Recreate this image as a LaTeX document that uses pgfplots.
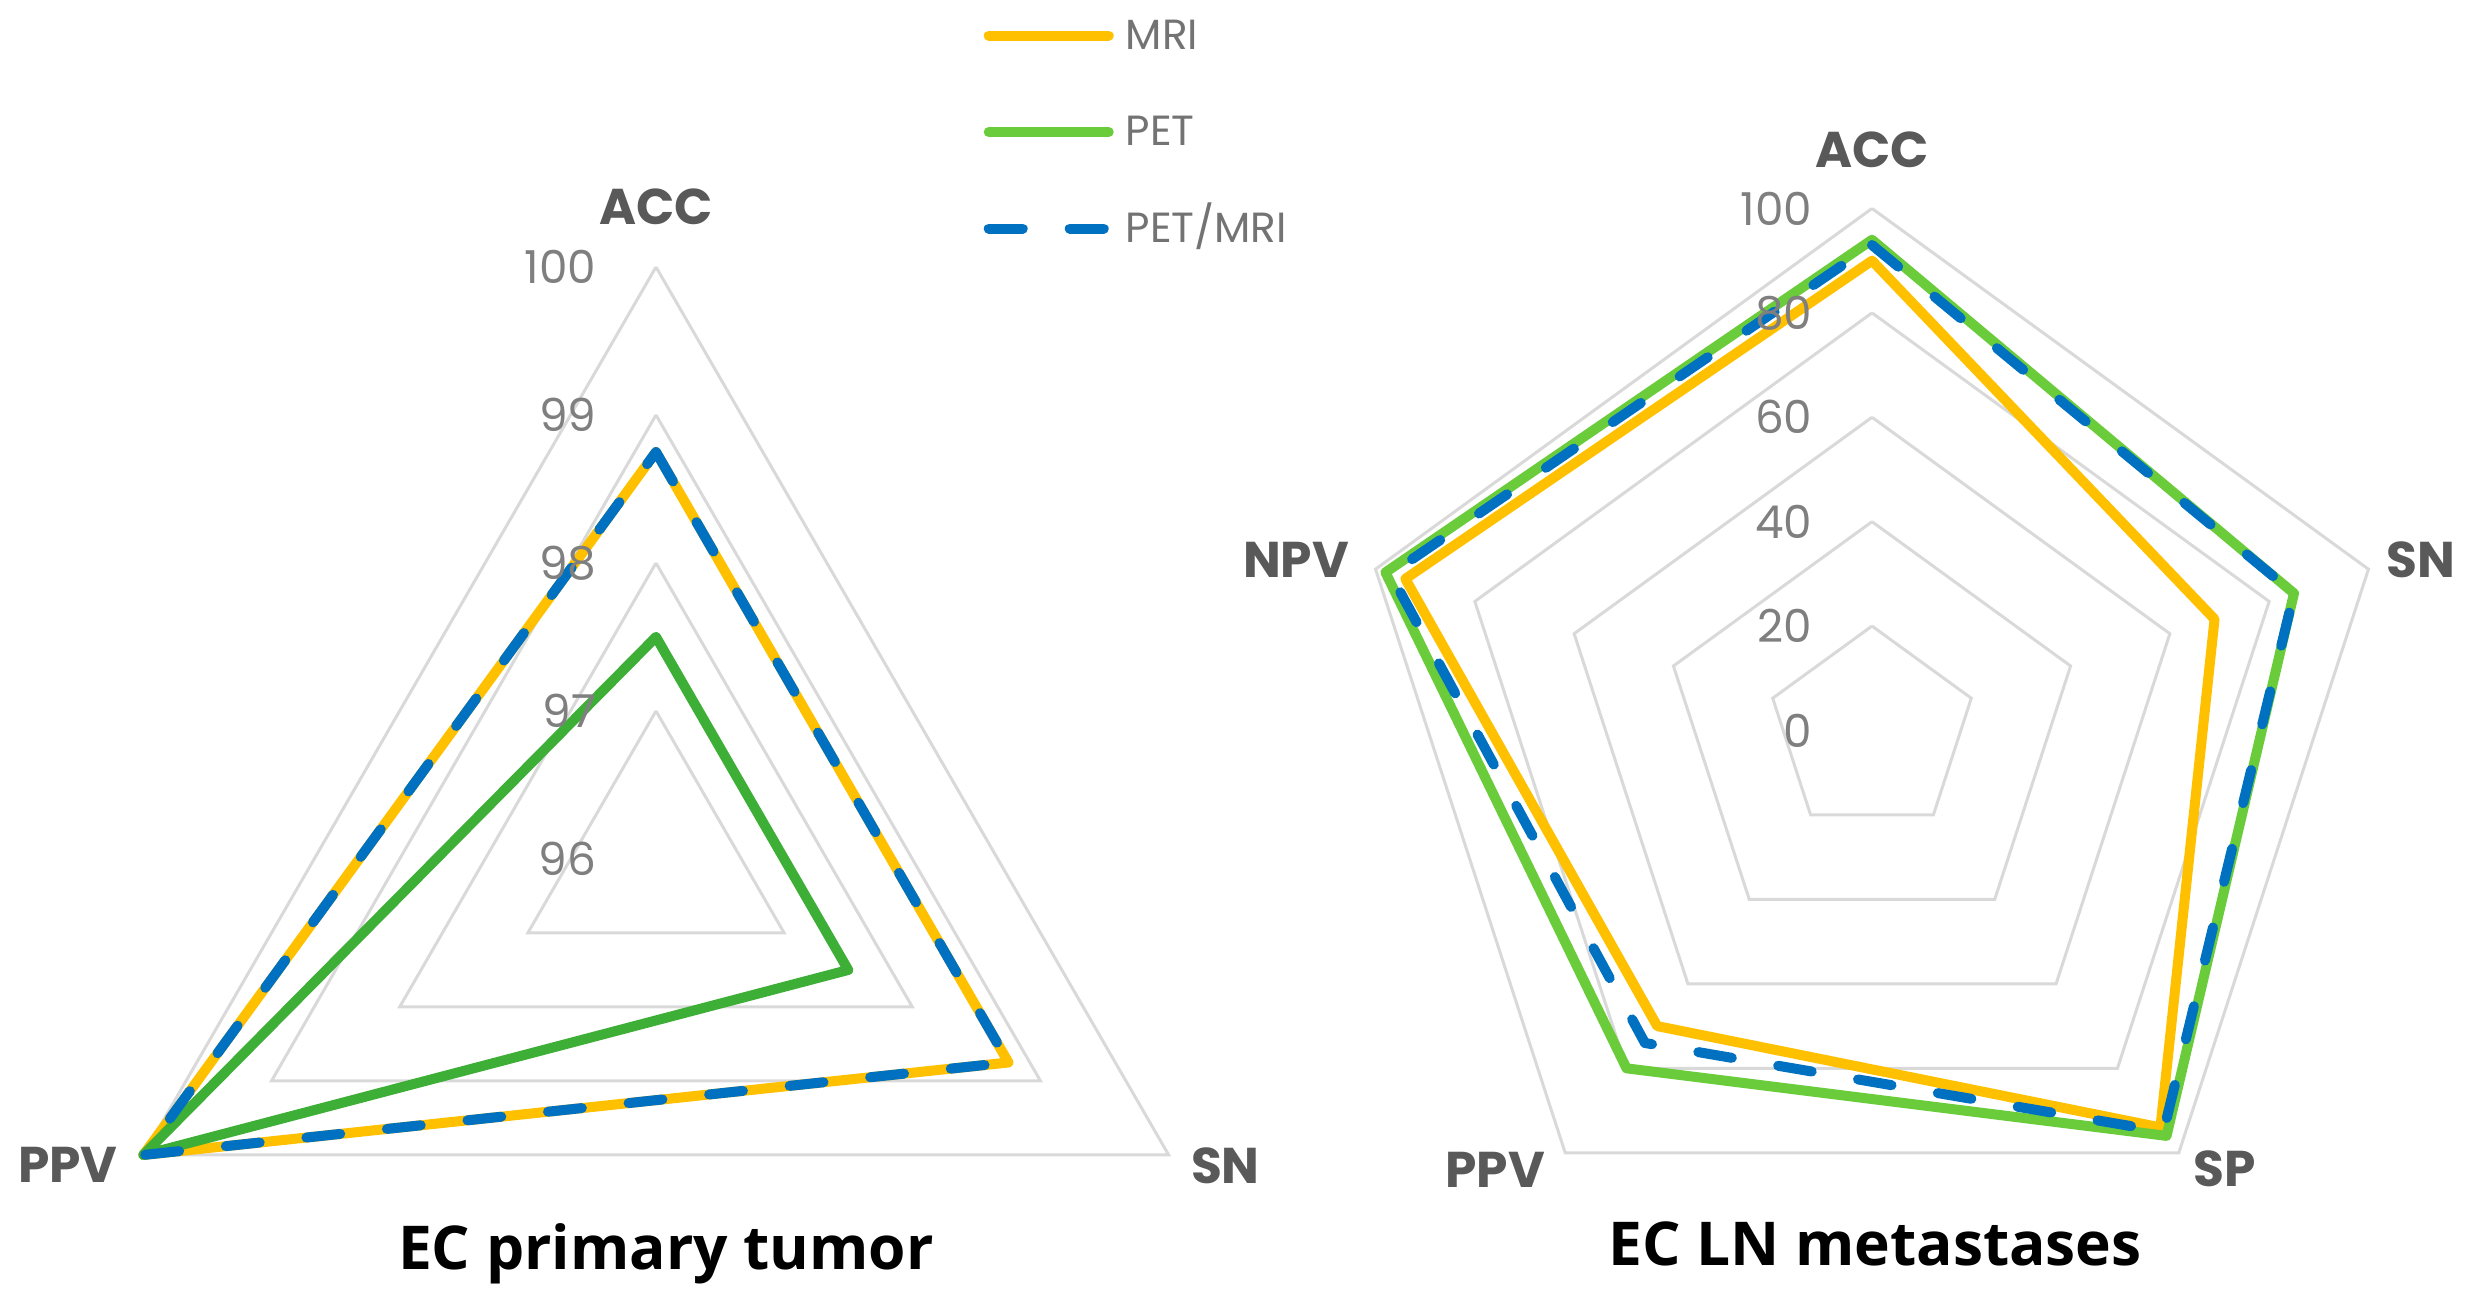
\documentclass[border=0pt]{standalone}
\usepackage{fontspec}
\setmainfont{Poppins}
\newfontfamily\titlefont{Open Sans}
\usepackage{pgfplots}
\pgfplotsset{compat=1.18}
\usepgfplotslibrary{polar}
\usepackage{pgfplotstable}

\definecolor{mri}{HTML}{FFC000}
\definecolor{petL}{HTML}{3DAE36}
\definecolor{petR}{HTML}{6ACC3A}
\definecolor{pmri}{HTML}{0070C0}
\definecolor{gridc}{HTML}{D9D9D9}
\definecolor{tickc}{HTML}{7F7F7F}
\definecolor{catc}{HTML}{595959}
\definecolor{legc}{HTML}{737373}

% EC primary tumor (values in %)
\pgfplotstableread{
ang mri pet pmri
90  98.75 97.5 98.75
330 98.75 97.5 98.75
210 100  100  100
90  98.75 97.5 98.75
}\tumor

% EC LN metastases (values in %)
\pgfplotstableread{
ang mri pet pmri
90  90 94 93
18  69 85 85
306 94 96 95
234 70 80 74
162 94 98 97
90  90 94 93
}\lnmeta

\tikzset{
  serie/.style={line width=0.1cm, line join=round, line cap=round},
  mydash/.style={dash pattern=on 0.34cm off 0.47cm},
  ticklab/.style={anchor=east, xshift=-0.59cm, text=tickc, inner sep=0pt, font=\fontsize{12.9}{14}\selectfont},
  catlab/.style={anchor=center, text=catc, inner sep=0pt, font=\bfseries\fontsize{14.3}{16}\selectfont},
}

\begin{document}
\begin{tikzpicture}
\useasboundingbox (0,0) rectangle (24.73,13.06);

% ---------------- left: EC primary tumor ----------------
\begin{polaraxis}[
  at={(6.56cm,4.47cm)}, anchor=center,
  width=11.84cm, height=11.84cm, scale only axis,
  xmin=0, xmax=360, ymin=0, ymax=4,
  hide axis, clip=false,
]
\addplot[gridc, line width=0.03cm, forget plot] coordinates {(90,1) (330,1) (210,1) (90,1)};
\addplot[gridc, line width=0.03cm, forget plot] coordinates {(90,2) (330,2) (210,2) (90,2)};
\addplot[gridc, line width=0.03cm, forget plot] coordinates {(90,3) (330,3) (210,3) (90,3)};
\addplot[gridc, line width=0.03cm, forget plot] coordinates {(90,4) (330,4) (210,4) (90,4)};

\addplot[mri, serie] table[x=ang, y expr=\thisrow{mri}-96] {\tumor};
\addplot[petL, serie] table[x=ang, y expr=\thisrow{pet}-96] {\tumor};
\addplot[pmri, serie, mydash] table[x=ang, y expr=\thisrow{pmri}-96] {\tumor};

\node[ticklab] at (axis cs:90,0) {96};
\node[ticklab] at (axis cs:90,1) {97};
\node[ticklab] at (axis cs:90,2) {98};
\node[ticklab] at (axis cs:90,3) {99};
\node[ticklab] at (axis cs:90,4) {100};

\node[catlab] at (axis cs:90,4.41) {ACC};
\node[catlab] at (axis cs:331.7,4.37) {SN};
\node[catlab] at (axis cs:207.5,4.48) {PPV};
\end{polaraxis}

% ---------------- right: EC LN metastases ----------------
\begin{polaraxis}[
  at={(18.72cm,5.755cm)}, anchor=center,
  width=10.44cm, height=10.44cm, scale only axis,
  xmin=0, xmax=360, ymin=0, ymax=100,
  hide axis, clip=false,
  legend style={at={(axis description cs:-0.3515,1.1840)}, anchor=north west, draw=none, fill=none,
    inner sep=0pt, row sep=0.595cm, column sep=0.12cm,
    nodes={inner sep=0pt, text height=0.32cm, text depth=0.05cm, text=legc,
      font=\fontsize{12}{13}\selectfont}},
  legend cell align=left,
  legend image code/.code={\draw[#1] (0cm,0cm) -- (1.2cm,0cm);},
]
\addplot[gridc, line width=0.03cm, forget plot] coordinates {(90,20) (18,20) (306,20) (234,20) (162,20) (90,20)};
\addplot[gridc, line width=0.03cm, forget plot] coordinates {(90,40) (18,40) (306,40) (234,40) (162,40) (90,40)};
\addplot[gridc, line width=0.03cm, forget plot] coordinates {(90,60) (18,60) (306,60) (234,60) (162,60) (90,60)};
\addplot[gridc, line width=0.03cm, forget plot] coordinates {(90,80) (18,80) (306,80) (234,80) (162,80) (90,80)};
\addplot[gridc, line width=0.03cm, forget plot] coordinates {(90,100) (18,100) (306,100) (234,100) (162,100) (90,100)};

\addplot[mri, serie] table[x=ang, y=mri] {\lnmeta};
\addlegendentry{MRI}
\addplot[petR, serie] table[x=ang, y=pet] {\lnmeta};
\addlegendentry{PET}
\addplot[pmri, serie, mydash] table[x=ang, y=pmri] {\lnmeta};
\addlegendentry{PET/MRI}

\node[ticklab] at (axis cs:90,0) {0};
\node[ticklab] at (axis cs:90,20) {20};
\node[ticklab] at (axis cs:90,40) {40};
\node[ticklab] at (axis cs:90,60) {60};
\node[ticklab] at (axis cs:90,80) {80};
\node[ticklab] at (axis cs:90,100) {100};

\node[catlab] at (axis cs:90,111.2) {ACC};
\node[catlab] at (axis cs:17.25,110.1) {SN};
\node[catlab] at (axis cs:308.8,107.7) {SP};
\node[catlab] at (axis cs:229.4,110.9) {PPV};
\node[catlab] at (axis cs:163.5,115.1) {NPV};
\end{polaraxis}

\node[anchor=base, inner sep=0pt, font=\titlefont\bfseries\fontsize{17.2}{20}\selectfont] at (6.66cm,0.36cm) {EC primary tumor};
\node[anchor=base, inner sep=0pt, font=\titlefont\bfseries\fontsize{17.2}{20}\selectfont] at (18.75cm,0.40cm) {EC LN metastases};
\end{tikzpicture}
\end{document}
